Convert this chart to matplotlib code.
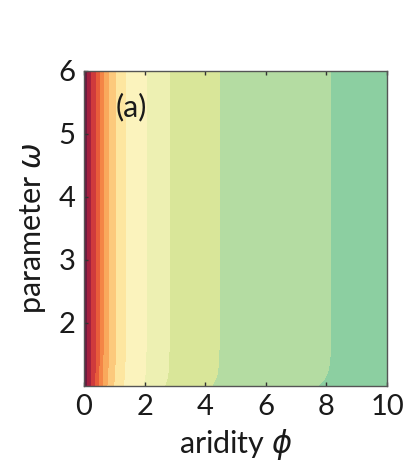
import numpy as np
import matplotlib.pyplot as plt

# contour levels (band edges in aridity, read at the top of the panel)
levels = [0, 0.13, 0.26, 0.40, 0.53, 0.66, 0.83, 1.06, 1.39, 2.08, 2.84, 4.49, 8.17, 10.5]
band_colors = ['#6b1b3f', '#a3203f', '#cf3a3c', '#e85c3a', '#f48546', '#f9a95c',
               '#fcc97c', '#fde6a0', '#fbf3bd', '#edf0b2', '#d9e699', '#b4dca2', '#8ccfa1']

# band edges bend toward lower aridity near omega = 1
bend_omega = [1.0, 1.1, 1.2, 1.35, 1.6, 6.0]
bend_factor = [0.95, 0.975, 0.988, 0.996, 1.0, 1.0]

x_ticks = [0, 2, 4, 6, 8, 10]
y_ticks = [2, 3, 4, 5, 6]

plt.rcParams['font.family'] = ['Lato', 'DejaVu Sans']

phi = np.linspace(0, 10, 600)
omega = np.linspace(1, 6, 300)
P, W = np.meshgrid(phi, omega)
Z = P / np.interp(W, bend_omega, bend_factor)

fig = plt.figure(figsize=(4.04, 4.70), dpi=100)
ax = fig.add_axes([0.208, 0.179, 0.75, 0.670])
ax.contourf(P, W, Z, levels=levels, colors=band_colors)

ax.set_xlim(0, 10)
ax.set_ylim(1, 6)
ax.set_xticks(x_ticks)
ax.set_yticks(y_ticks)
ax.tick_params(direction='in', length=3, width=1, top=True, labelsize=21,
               color='#333333', labelcolor='#1a1a1a', pad=6)
for s in ax.spines.values():
    s.set_color('#555555')
    s.set_linewidth(1)

ax.set_xlabel(r'aridity $\phi$', fontsize=22, labelpad=5, color='#1a1a1a')
ax.set_ylabel(r'parameter $\omega$', fontsize=22, labelpad=8, color='#1a1a1a')
ax.text(0.155, 0.885, '(a)', transform=ax.transAxes, fontsize=22,
        ha='center', va='center', color='#1a1a1a')

fig.savefig('out.png', dpi=100)
